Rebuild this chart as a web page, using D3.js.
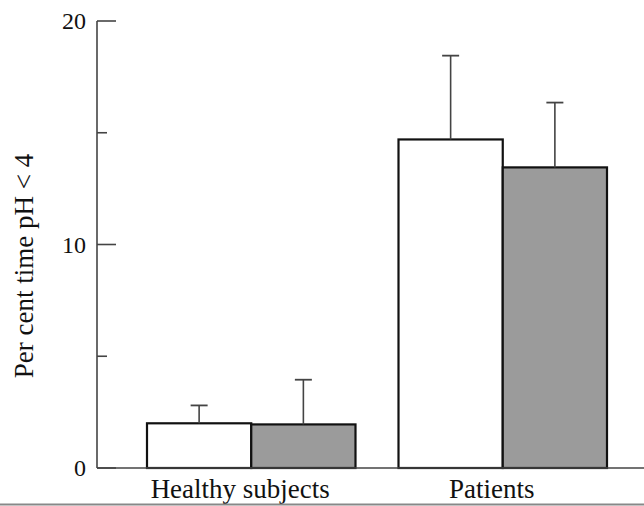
<!DOCTYPE html>
<html>
<head>
<meta charset="utf-8">
<script src="https://cdn.jsdelivr.net/npm/d3@7"></script>
<style>
  body { margin: 0; background: #fff; }
  svg { display: block; }
  text { font-family: "Liberation Serif", "DejaVu Serif", serif; fill: #111; }
</style>
</head>
<body>
<svg id="chart" width="644" height="506"></svg>
<script>
// groups along the x axis
var groups = ["Healthy subjects", "Patients"];
// two series per group (white bar, grey bar)
var series = ["first", "second"];
var means = [[2.0, 1.95], [14.7, 13.45]];
var sdUpper = [[2.8, 3.95], [18.45, 16.35]];
var yTicks = [0, 5, 10, 15, 20];
var yLabels = [0, 10, 20];

var svg = d3.select("#chart"),
    margin = { top: 21, right: 0, bottom: 38, left: 97 },
    height = 506 - margin.top - margin.bottom;

var y = d3.scaleLinear().domain([0, 20]).range([height + margin.top, margin.top]);

var x0 = d3.scaleBand()
    .domain(groups)
    .range([147, 607])
    .paddingInner(0.171);

var x1 = d3.scaleBand()
    .domain(series)
    .range([0, x0.bandwidth()]);

var fills = { first: "#ffffff", second: "#9b9b9b" };

// bars
groups.forEach(function (g, gi) {
    series.forEach(function (s, si) {
        var bx = x0(g) + x1(s);
        svg.append("rect")
            .attr("x", bx)
            .attr("y", y(means[gi][si]))
            .attr("width", x1.bandwidth())
            .attr("height", y(0) - y(means[gi][si]))
            .attr("fill", fills[s])
            .attr("stroke", "#111")
            .attr("stroke-width", 2.2);

        var cx = bx + x1.bandwidth() / 2;
        svg.append("line")
            .attr("x1", cx).attr("x2", cx)
            .attr("y1", y(means[gi][si])).attr("y2", y(sdUpper[gi][si]))
            .attr("stroke", "#444").attr("stroke-width", 1.6);
        svg.append("line")
            .attr("x1", cx - 8.5).attr("x2", cx + 8.5)
            .attr("y1", y(sdUpper[gi][si])).attr("y2", y(sdUpper[gi][si]))
            .attr("stroke", "#444").attr("stroke-width", 1.8);
    });
});

// y axis: ticks point inward, long at labelled values
var yAxis = svg.append("g").attr("transform", "translate(" + margin.left + ",0)");
yAxis.append("line")
    .attr("x1", 0).attr("x2", 0)
    .attr("y1", y(20)).attr("y2", y(0))
    .attr("stroke", "#444").attr("stroke-width", 1.6);
yAxis.selectAll(".tick")
    .data(yTicks)
    .enter().append("line")
    .attr("x1", 0)
    .attr("x2", function (d) { return yLabels.indexOf(d) >= 0 ? 19 : 10; })
    .attr("y1", function (d) { return y(d); })
    .attr("y2", function (d) { return y(d); })
    .attr("stroke", "#444").attr("stroke-width", 1.6);
yAxis.selectAll(".lbl")
    .data(yLabels)
    .enter().append("text")
    .attr("x", -11)
    .attr("y", function (d) { return y(d); })
    .attr("dy", "0.35em")
    .attr("text-anchor", "end")
    .style("font-size", "24px")
    .text(function (d) { return d; });

// baseline runs to the right edge
svg.append("line")
    .attr("x1", margin.left).attr("x2", 644)
    .attr("y1", y(0)).attr("y2", y(0))
    .attr("stroke", "#444").attr("stroke-width", 1.6);

// group labels
svg.selectAll(".grp")
    .data(groups)
    .enter().append("text")
    .attr("x", function (g) { return x0(g) + x0.bandwidth() / 2; })
    .attr("dx", -11)
    .attr("y", 498)
    .attr("text-anchor", "middle")
    .style("font-size", "27px")
    .text(function (g) { return g; });

// y axis title
svg.append("text")
    .attr("transform", "translate(33,266) rotate(-90)")
    .attr("text-anchor", "middle")
    .style("font-size", "27px")
    .text("Per cent time pH < 4");

// grey frame edge at the bottom
svg.append("line")
    .attr("x1", 0).attr("x2", 644)
    .attr("y1", 504.5).attr("y2", 504.5)
    .attr("stroke", "#888").attr("stroke-width", 2);
</script>
</body>
</html>
